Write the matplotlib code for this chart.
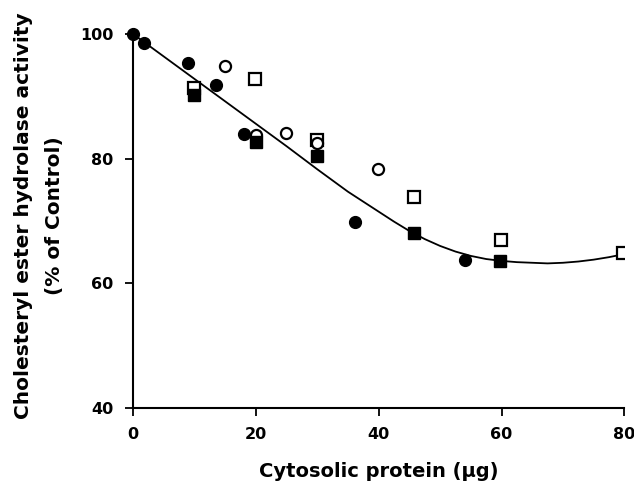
import matplotlib.pyplot as plt

plt.rcParams['font.family'] = ['DejaVu Sans']
plt.rcParams['font.weight'] = 'bold'

# filled circles
fc_x = [0, 1.8, 9.0, 13.5, 18.1, 36.1, 54.1]
fc_y = [100, 98.5, 95.4, 91.8, 84.0, 69.8, 63.7]
# open circles
oc_x = [14.9, 20, 24.9, 29.9, 39.9]
oc_y = [94.9, 83.8, 84.2, 82.5, 78.3]
# filled squares
fs_x = [10, 20, 30, 45.8, 59.8]
fs_y = [90.2, 82.7, 80.4, 68.0, 63.6]
# open squares
os_x = [10, 19.9, 29.9, 45.8, 59.9, 79.7]
os_y = [91.4, 92.8, 83.0, 73.8, 66.9, 64.9]

# fitted curve
curve_x = [0, 5, 10, 15, 20, 25, 30, 35, 37.5, 40, 42.5, 45, 47.5, 50, 52.5, 55,
           57.5, 60, 62.5, 65, 67.5, 70, 72.5, 75, 77.5, 80]
curve_y = [100, 96.4, 92.8, 89.2, 85.6, 82.0, 78.3, 74.7, 73.1, 71.5, 69.9, 68.4,
           67.1, 66.0, 65.1, 64.4, 63.9, 63.6, 63.4, 63.3, 63.2, 63.3, 63.5, 63.8,
           64.2, 64.7]

fig = plt.figure(figsize=(6.34, 4.86), dpi=100)
ax = fig.add_axes([0.2098, 0.1605, 0.775, 0.7695])

ax.plot(curve_x, curve_y, color='black', lw=1.3, zorder=1)
ax.plot(os_x, os_y, 's', ms=8, mfc='white', mec='black', mew=1.6, zorder=2)
ax.plot(oc_x, oc_y, 'o', ms=8, mfc='white', mec='black', mew=1.6, zorder=2)
ax.plot(fs_x, fs_y, 's', ms=8, color='black', zorder=3)
ax.plot(fc_x, fc_y, 'o', ms=8.5, color='black', zorder=3, clip_on=False)

ax.set_xlim(0, 80)
ax.set_ylim(40, 100)
ax.set_xticks([0, 20, 40, 60, 80])
ax.set_yticks([40, 60, 80, 100])
for s in ['top', 'right']:
    ax.spines[s].set_visible(False)
for s in ['left', 'bottom']:
    ax.spines[s].set_linewidth(1.5)
ax.tick_params(direction='out', length=6, width=1.3, labelsize=11.5, pad=8)

ax.set_xlabel('Cytosolic protein (μg)', fontsize=14, fontweight='bold', labelpad=14)
ax.set_ylabel('Cholesteryl ester hydrolase activity\n(% of Control)',
              fontsize=14.5, fontweight='bold', labelpad=12, linespacing=1.8)
ax.yaxis.label.set_y(0.515)

fig.savefig('out.png', dpi=100)
